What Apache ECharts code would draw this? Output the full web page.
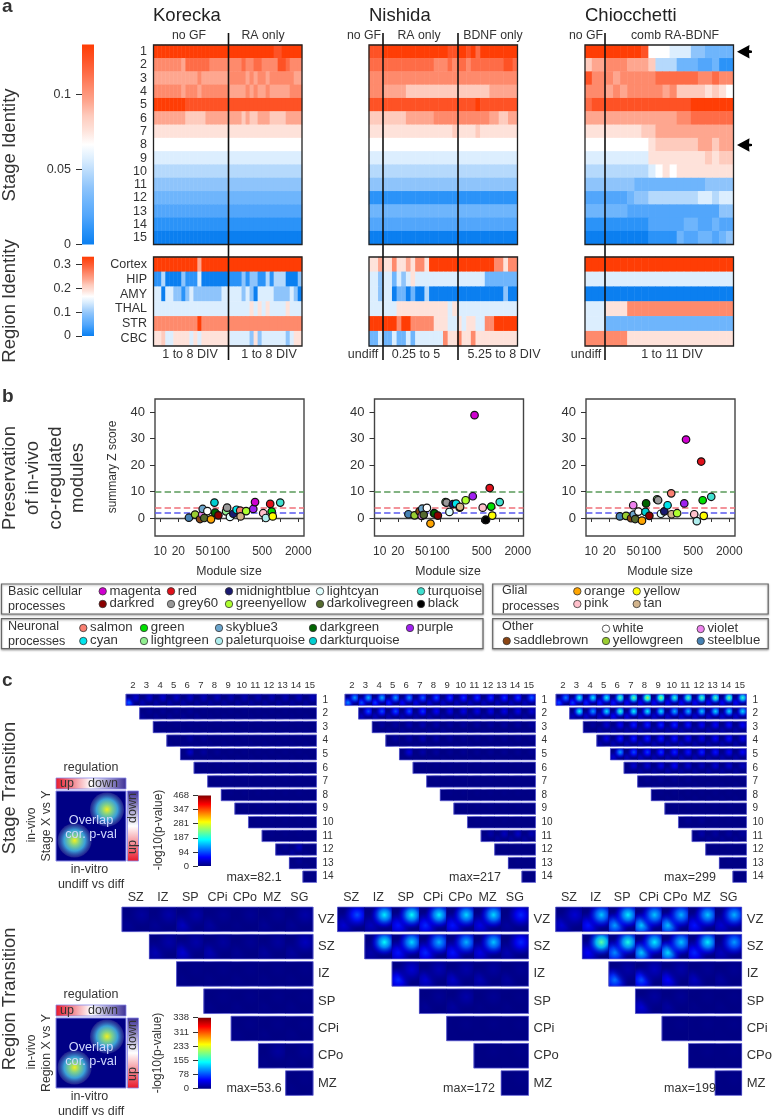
<!DOCTYPE html>
<html><head><meta charset="utf-8">
<style>html,body{margin:0;padding:0;background:#fff}#c{width:775px;height:1117px}</style>
<script src="https://cdn.jsdelivr.net/npm/echarts@6/dist/echarts.min.js"></script>
</head><body><div id="c"></div>
<script>
// ---------- DATA: panel a (colour level A = deepest blue ... H = white ... O = strongest red; letter + run length)
const stageRows = ['1','2','3','4','5','6','7','8','9','10','11','12','13','14','15'];
const regionRows = ['Cortex','HIP','AMY','THAL','STR','CBC'];
const korStage = ['O30 N2 O5','L7 K1 M6 L8 M1 L2 M2 L4 N2 M1 L3','K11 L1 K7 L4 K1 L1 K1 L2 K1 L6 K2','L7 K1 L3 K1 L7 K4 L1 K1 L1 K2 L1 K5 L3','O8 N29','K8 J5 K9 J1 K1 J2 K3 J4 K4','I37','H37','G37','F37','E37','D37','C37','B37','A37'];
const nisStage = ['N3 O14 N2 O2 N1 O1 M1 O8','M14 L3 M1 L1 M2 L1 M7 N2 M1','L32','L3 K5 J18 K6','N23 O1 N8','J8 K6 L12 K2 J2 K2','I18 J1 I4 J1 I8','H32','G32','F32','E32','B32','D32','C32','A32'];
const chiStage = ['O8 N1 H3 G3 E2 D4','J1 K2 L3 K3 J1 F3 D3 C2 D1 B2','N1 L3 K1 L5 M6 L2 M1 L2','L3 K1 L1 K1 L5 K1 L1 J4 I1 J1 I1 H1','M1 N14 O6','K13 L2 M6','I8 J2 K11','H9 I1 J6 K2 J1 K2','G9 I8 J1 I1 J2','F9 G1 H1 I1 H1 I8','E7 D10 E4','C6 D1 E2 F7 G2 F1 G2','D6 C13 E2','B9 C5 D2 C2 D1 C2','A9 B4 D1 C2 D2 C1 D1 E1'];
const korRegion = ['O11 K1 O25','B2 F1 A4 E1 B3 G1 A7 B3 E1 B1 E2 B2 F1 B1 F3 A3 E1','G2 A1 G2 E2 B1 E1 G1 E7 G5 E1 G1 E1 A1 G4 E4 G1 E1 A1','G24 I1 G1 I1 G1 I1 G4 I1 G3','L11 O1 L25','I2 J1 G2 I4 G1 I1 G1 I7 G5 E1 I1 E1 G6 E1 G1 I2'];
const nisRegion = ['I2 K1 I2 L1 I2 K1 I1 L2 I1 O14 L2 I1 L2','G2 E1 G2 D1 G1 E1 G1 I1 G15 D7','G2 E1 G2 A1 D2 A1 D1 A2 F1 A16 E1 A2','G6 I11 G1 I1 G13','O6 L1 O2 L5 I3 G2 I1 G1 I2 G2 L2 O5','D2 G1 D2 G1 D2 G1 D1 G6 L1 I2 L1 I2 L1 I9'];
const chiRegion = ['O21','G21','A21','G3 I3 L15','G3 D18','L6 I15'];
const stageScaleTicks = [0,0.05,0.1];
const regionScaleTicks = [0,0.1,0.2,0.3];

// ---------- DATA: panel b
const moduleNames = ['steelblue','yellowgreen','saddlebrown','violet','skyblue3','darkolivegreen','white','orange','darkturquoise','darkgreen','darkred','lightgreen','grey60','lightcyan','midnightblue','cyan','salmon','tan','greenyellow','purple','magenta','pink','paleturquoise','black','red','green','yellow','turquoise'];
const moduleSizes = [30,38,46,50,51,54,61,70,80,82,93,125,130,145,165,187,215,218,270,355,380,520,575,590,680,720,750,1000];
const korZ = [0.1,1.3,-0.4,1.3,3.4,0,2.6,-0.5,5.8,2,1,2.5,3.9,0.4,1.6,3.1,2.8,0.6,2.6,3.4,6,1.8,0,null,5.3,2.4,0.6,5.8];
const nisZ = [1.4,1,2.5,0.8,3.5,1.2,3.8,-2.1,1.8,1.7,0.9,6,5.8,2.3,5.2,5.4,3.9,4.2,6.7,8.2,38.8,3.9,-0.75,-0.75,11.3,4.3,0.9,6];
const chiZ = [0.6,0.8,-0.1,4.8,1.3,-0.4,2.4,-1,2.3,5.5,0.8,7,6.7,1.6,2.5,4.8,9.3,1.4,1.8,5.5,29.6,1.4,-1.2,null,21.3,6.7,0.8,8];
const thresholds = [10,4,2,0];
const sizeTicks = [10,20,50,100,200,500,1000,2000];
const sizeLabels = [10,20,50,100,500,2000];
const zTicks = [0,10,20,30,40];

// ---------- DATA: panel c (peak strength, percent of the colour scale; lower-left "up" blob and upper-right "down" blob per cell)
const stageCols = ['2','3','4','5','6','7','8','9','10','11','12','13','14','15'];
const stageLabels = ['1','2','3','4','5','6','7','8','9','10','11','12','13','14'];
const regionCols = ['SZ','IZ','SP','CPi','CPo','MZ','SG'];
const regionLabels = ['VZ','SZ','IZ','SP','CPi','CPo','MZ'];
const stageScale = ['0','94','187','281','347','468'];
const regionScale = ['0','78','155','233','311','338'];
const stageAUp = [[22,5,4,4,4,3,3,3,3,3,3,3,3,3],[2,2,2,2,2,1,1,1,1,1,1,1,1],[1,1,1,1,1,1,1,1,1,1,1,1],[1,1,1,1,1,1,1,1,1,1,1],[1,1,1,1,1,1,1,1,1,1],[1,1,1,1,1,1,1,1,1],[0,0,0,0,0,0,0,0],[0,0,0,0,0,0,0],[0,0,0,0,0,0],[0,0,0,0,0],[0,0,0,0],[2,3,1],[1,1],[0]];
const stageADown = [[8,8,8,7,7,6,6,5,5,5,5,5,6,6],[2,2,2,2,1,1,1,1,1,1,1,1,1],[1,1,1,1,1,1,1,1,1,1,1,1],[1,3,2,1,1,1,1,1,1,1,1],[7,3,2,1,1,1,1,1,1,1],[1,1,1,1,1,1,1,1,1],[1,1,1,1,1,1,1,1],[1,1,1,1,1,1,1],[1,1,1,1,1,1],[1,1,1,1,1],[1,1,1,1],[2,6,1],[2,1],[1]];
const stageBUp = [[26,20,18,16,12,10,8,7,6,6,6,6,6,6],[6,6,5,5,4,4,3,3,3,3,3,3,3],[2,2,2,2,2,2,1,1,1,1,1,1],[1,1,1,1,1,1,1,1,1,1,1],[1,1,1,1,1,1,1,1,1,1],[0,0,0,0,0,0,0,0,0],[0,0,0,0,0,0,0,0],[0,0,0,0,0,0,0],[0,0,0,0,0,0],[0,0,0,0,0],[2,3,3,3],[0,0,0],[0,0],[0]];
const stageBDown = [[28,30,30,28,26,22,20,18,17,17,17,17,18,22],[20,20,20,20,18,12,10,10,10,10,10,10,8],[3,3,5,5,4,3,3,3,3,3,3,3],[3,4,5,4,3,2,2,2,2,2,2],[9,4,3,2,2,2,2,2,2,2],[1,1,1,1,1,1,1,1,1],[1,1,1,1,1,1,1,1],[1,1,1,1,1,1,1],[1,1,1,1,1,1],[1,1,1,1,1],[4,6,7,5],[1,1,1],[1,1],[0]];
const stageCUp = [[20,18,15,15,14,12,12,12,12,12,12,12,12,12],[6,8,8,12,10,8,8,8,8,8,8,8,8],[2,3,4,4,4,4,4,4,4,4,4,4],[4,5,5,5,5,5,5,4,4,4,4],[8,6,6,5,5,5,5,4,4,4],[2,3,3,4,3,3,3,3,3],[1,1,1,1,1,1,1,1],[1,1,1,1,1,1,1],[0,0,0,0,0,0],[0,0,0,0,0],[2,2,2,2],[0,0,0],[0,0],[0]];
const stageCDown = [[25,38,36,38,45,48,55,52,42,45,45,45,48,42],[38,28,35,42,38,36,35,30,30,32,34,34,34],[3,8,12,15,15,16,16,14,12,12,13,12],[10,15,15,15,15,14,12,10,12,14,10],[28,20,18,18,16,14,16,14,12,12],[8,8,10,12,8,6,8,8,6],[2,2,2,2,1,1,1,1],[1,1,1,1,1,1,1],[1,1,1,1,1,1],[2,2,1,1,1],[4,3,3,3],[1,1,1],[1,1],[0]];
const regionAUp = [[2,2,6,3,1,2,2],[5,8,5,2,3,3],[1,1,1,1,1],[1,1,1,1],[1,1,1],[1,1],[1]];
const regionADown = [[3,4,4,2,2,2,4],[4,4,3,2,3,6],[1,1,1,1,1],[1,1,1,1],[1,1,1],[3,2],[1]];
const regionBUp = [[8,6,14,16,14,10,3],[4,14,16,14,10,5],[16,8,7,5,3],[2,3,1,1],[0,0,0],[0,0],[0]];
const regionBDown = [[20,36,38,36,34,34,16],[38,34,30,30,32,16],[8,5,4,3,2],[2,4,2,1],[1,1,1],[1,1],[1]];
const regionCUp = [[8,14,28,32,31,14,8],[12,26,32,34,16,6],[24,20,12,6,3],[8,3,1,1],[0,0,0],[0,0],[0]];
const regionCDown = [[8,32,36,32,30,32,30],[46,40,36,32,36,28],[4,6,4,2,2],[3,2,1,1],[1,1,1],[1,1],[1]];

// ---------- STYLE / LAYOUT
const FONT = '"Liberation Sans",Arial,sans-serif';
const TXT = '#333';
const palette = ['#0b7ff0','#2b93f8','#52a6fb','#6eb5fc','#8ec4fb','#b5d9fc','#dceefe','#ffffff','#fee2da','#fecbbd','#fea68f','#fe8a6c','#fe6c47','#fe5225','#ff3d05'];
const moduleColors = {steelblue:'#4682b4',yellowgreen:'#9acd32',saddlebrown:'#8b4513',violet:'#ee82ee',skyblue3:'#6ca6cd',darkolivegreen:'#556b2f',white:'#ffffff',orange:'#ffa500',darkturquoise:'#00ced1',darkgreen:'#006400',darkred:'#8b0000',lightgreen:'#90ee90',grey60:'#999999',lightcyan:'#e0ffff',midnightblue:'#191970',cyan:'#00e5ee',salmon:'#fa8072',tan:'#d2b48c',greenyellow:'#adff2f',purple:'#a020f0',magenta:'#d000d0',pink:'#ffc0cb',paleturquoise:'#afeeee',black:'#000000',red:'#e0101a',green:'#00e000',yellow:'#ffff00',turquoise:'#40e0d0'};
const lineStyles = {10:['#5a9a5a','dashed'],4:['#f0707a','dashed'],2:['#5a5af0','dashed'],0:['#444','solid']};

function expand(s){const out=[];s.split(' ').forEach(t=>{const lv=t.charCodeAt(0)-65,n=+t.slice(1);for(let i=0;i<n;i++)out.push(lv);});return out;}
function clamp(v){return Math.max(0,Math.min(1,v));}
function jet(t,a){const r=clamp(1.5-Math.abs(4*t-3)),g=clamp(1.5-Math.abs(4*t-2)),b=clamp(1.5-Math.abs(4*t-1));
  return 'rgba('+Math.round(r*255)+','+Math.round(g*255)+','+Math.round(b*255)+','+(a===undefined?1:a)+')';}
function vStops(list){return list.map((c,i)=>({offset:i/(list.length-1),color:c}));}
const vGradient = list => ({type:'linear',x:0,y:0,x2:0,y2:1,colorStops:vStops(list)});

const grids=[],xAxes=[],yAxes=[],series=[],graphics=[];
function addGrid(g,x,y){grids.push(g);xAxes.push(Object.assign({gridIndex:grids.length-1},x));yAxes.push(Object.assign({gridIndex:grids.length-1},y));return grids.length-1;}
function txt(x,y,text,o){o=o||{};graphics.push({type:'text',x:x,y:y,z:120,silent:true,
  style:{text:text,fill:o.color||TXT,font:(o.bold?'bold ':'')+(o.size||13)+'px '+FONT,textAlign:o.align||'center',textVerticalAlign:'middle'}});}
function vtxt(x,y,t,s,c){graphics.push({type:'text',x:x,y:y,rotation:Math.PI/2,z:120,silent:true,style:{text:t,fill:c||TXT,font:s+'px '+FONT,textAlign:'center',textVerticalAlign:'middle'}});}
function frame(x,y,w,h,c,lw){graphics.push({type:'rect',z:110,silent:true,shape:{x:x,y:y,width:w,height:h},style:{fill:'none',stroke:c||'#222',lineWidth:lw||1.3}});}
function vline(x,y1,y2){graphics.push({type:'line',z:115,silent:true,shape:{x1:x,y1:y1,x2:x,y2:y2},style:{stroke:'#111',lineWidth:1.6}});}

// ---------- heat panels
const heatSeries=[];
function heat(x,y,w,h,rows,labels,showLabels){
  const m=rows.map(expand),cols=m[0].length,data=[];
  m.forEach((r,i)=>r.forEach((v,j)=>data.push([j,i,v])));
  const gi=addGrid({left:x,top:y,width:w,height:h},
    {type:'category',show:false,data:Array.from({length:cols},(_,i)=>i)},
    {type:'category',inverse:true,data:labels,show:showLabels,axisLine:{show:false},axisTick:{show:false},axisLabel:{fontFamily:FONT,fontSize:12.5,color:TXT,margin:6.5,interval:0}});
  heatSeries.push(series.length);
  series.push({type:'heatmap',xAxisIndex:gi,yAxisIndex:gi,data:data,silent:true,progressive:0,itemStyle:{borderWidth:0}});
  frame(x,y,w,h);
}
heat(153.5,45,148.5,199.5,korStage,stageRows,true);
heat(369,45,148.5,199.5,nisStage,stageRows,false);
heat(585,45,148.5,199.5,chiStage,stageRows,false);
heat(153.5,257,148.5,89,korRegion,regionRows,true);
heat(369,257,148.5,89,nisRegion,regionRows,false);
heat(585,257,148.5,89,chiRegion,regionRows,false);
[[228.5,33,360],[383,33,360],[458,33,360],[605,33,360]].forEach(l=>vline(l[0],l[1],l[2]));

// scale bars of panel a
function scaleBar(y,h,maxV,ticks,fmt){
  const gi=addGrid({left:82,top:y,width:12,height:h},
    {type:'category',show:false,data:['scale']},
    {type:'value',min:0,max:maxV,splitLine:{show:false},axisLine:{show:false},
     axisTick:{show:true,customValues:ticks,length:6,lineStyle:{color:'#333'}},
     axisLabel:{customValues:ticks,formatter:fmt,fontFamily:FONT,fontSize:12.5,color:TXT,margin:11}});
  series.push({type:'bar',xAxisIndex:gi,yAxisIndex:gi,data:[maxV],barWidth:'100%',silent:true,itemStyle:{color:vGradient(palette.slice().reverse())}});
}
scaleBar(44.6,200,0.1333,stageScaleTicks,v=>String(+v.toFixed(2)));
scaleBar(256.7,79.3,0.332,regionScaleTicks,v=>String(+v.toFixed(1)));

// ---------- scatter panels
function scatter(x,values){
  const data=moduleNames.map((n,i)=>({value:[moduleSizes[i],values[i]],itemStyle:{color:moduleColors[n]}})).filter(d=>d.value[1]!==null);
  const gi=addGrid({left:x,top:399,width:149,height:137,show:true,borderColor:'#444',borderWidth:1.4},
    {type:'log',logBase:10,min:8.16,max:2490,splitLine:{show:false},axisLine:{show:false},minorTick:{show:false},
     axisTick:{show:true,customValues:sizeTicks,length:4,lineStyle:{color:'#333'}},
     axisLabel:{customValues:sizeLabels,formatter:v=>String(Math.round(v)),fontFamily:FONT,fontSize:12,color:TXT,margin:10,hideOverlap:false}},
    {type:'value',min:-6.8,max:44.9,splitLine:{show:false},axisLine:{show:false},
     axisTick:{show:true,customValues:zTicks,length:5,lineStyle:{color:'#333'}},
     axisLabel:{customValues:zTicks,fontFamily:FONT,fontSize:13,color:TXT,margin:10}});
  series.push({type:'scatter',xAxisIndex:gi,yAxisIndex:gi,data:data,symbolSize:7.5,silent:true,z:5,
    itemStyle:{borderColor:'#111',borderWidth:1.2,opacity:1},
    markLine:{silent:true,symbol:'none',label:{show:false},animation:false,z:3,
      data:thresholds.map(t=>({yAxis:t,lineStyle:{color:lineStyles[t][0],type:lineStyles[t][1],width:t===0?1.4:1.6}}))}});
}
scatter(155,korZ);scatter(374.5,nisZ);scatter(586,chiZ);

// ---------- transition panels
function overlapRenderer(colCount,gap){
  return function(params,api){
    const col=api.value(0),row=api.value(1);
    const c=api.coord([col,row]),s=api.size([1,1]);
    const w=s[0],h=s[1]-gap,r={x:c[0]-w/2,y:c[1]-h/2,width:w,height:h};
    const blob=(t,px,py)=>({type:'rect',shape:r,style:{fill:{type:'radial',x:px,y:py,r:0.62,global:false,colorStops:[
       {offset:0,color:jet(t)},{offset:0.35,color:jet(t*0.7,0.9)},{offset:0.7,color:jet(t*0.35,0.5)},{offset:1,color:jet(0,0)}]}}});
    const children=[{type:'rect',shape:{x:r.x-0.3,y:r.y,width:w+0.6,height:h},style:{fill:jet(0.005)}}];
    const up=api.value(2)/100,down=api.value(3)/100;
    if(up>0)children.push(blob(up,0.22,0.75));
    if(down>0)children.push(blob(down,0.72,0.32));
    const edge='#6c6cdc';
    const ln=(x1,y1,x2,y2)=>({type:'line',shape:{x1,y1,x2,y2},style:{stroke:edge,lineWidth:0.7}});
    children.push(ln(r.x,r.y,r.x+w,r.y),ln(r.x,r.y+h,r.x+w,r.y+h));
    if(col===row)children.push(ln(r.x,r.y,r.x,r.y+h));
    if(col===colCount-1)children.push(ln(r.x+w,r.y,r.x+w,r.y+h));
    return {type:'group',children:children};
  };
}
function overlap(x,y,w,h,cols,rows,up,down,xSize,ySize,xMargin,ySpace,gap){
  const n=rows.length,data=[];
  for(let i=0;i<n;i++)for(let j=0;j<up[i].length;j++)data.push([i+j,i,up[i][j],down[i][j]]);
  const gi=addGrid({left:x,top:y,width:w,height:h},
    {type:'category',position:'top',data:cols,axisLine:{show:false},axisTick:{show:false},axisLabel:{interval:0,fontFamily:FONT,fontSize:xSize,color:TXT,margin:xMargin}},
    {type:'category',position:'right',inverse:true,data:rows,axisLine:{show:false},axisTick:{show:false},axisLabel:{interval:0,fontFamily:FONT,fontSize:ySize,color:TXT,margin:ySpace}});
  series.push({type:'custom',xAxisIndex:gi,yAxisIndex:gi,data:data,renderItem:overlapRenderer(cols.length,gap),silent:true,clip:false,encode:{x:0,y:1}});
}
overlap(126,693,190.5,190.5,stageCols,stageLabels,stageAUp,stageADown,9.5,10,2.5,6,2.1);
overlap(345,693,190.5,190.5,stageCols,stageLabels,stageBUp,stageBDown,9.5,10,2.5,6,2.1);
overlap(556,693,190.5,190.5,stageCols,stageLabels,stageCUp,stageCDown,9.5,10,2.5,6,2.1);
overlap(122,905.7,191,191,regionCols,regionLabels,regionAUp,regionADown,12.5,13,1.5,5,2.6);
overlap(337.5,905.7,191,191,regionCols,regionLabels,regionBUp,regionBDown,12.5,13,1.5,5,2.6);
overlap(555.7,905.7,191,191,regionCols,regionLabels,regionCUp,regionCDown,12.5,13,1.5,5,2.6);

// jet scale bars of panel c
function jetBar(y,h,labels){
  const stops=[];for(let i=0;i<=16;i++)stops.push(jet(1-i/16));
  const ticks=labels.map((_,i)=>i);
  const gi=addGrid({left:198,top:y,width:13,height:h},
    {type:'category',show:false,data:['scale']},
    {type:'value',min:0,max:labels.length-1,splitLine:{show:false},axisLine:{show:false},
     axisTick:{show:true,customValues:ticks,length:5,lineStyle:{color:'#333'}},
     axisLabel:{customValues:ticks,formatter:v=>labels[Math.round(v)],fontFamily:FONT,fontSize:9.5,color:TXT,margin:9}});
  series.push({type:'bar',xAxisIndex:gi,yAxisIndex:gi,data:[labels.length-1],barWidth:'100%',silent:true,itemStyle:{color:vGradient(stops)}});
}
jetBar(795.5,70.5,stageScale);
jetBar(1017.7,71,regionScale);

// ---------- annotation text
txt(2,7,'a',{bold:true,size:19,align:'left'});txt(2,397,'b',{bold:true,size:19,align:'left'});txt(2,681,'c',{bold:true,size:19,align:'left'});
txt(153,15.5,'Korecka',{size:18.5,align:'left',color:'#222'});txt(369,15.5,'Nishida',{size:18.5,align:'left',color:'#222'});txt(585,15.5,'Chiocchetti',{size:18.5,align:'left',color:'#222'});
[[189,'no GF'],[263,'RA only'],[364,'no GF'],[419,'RA only'],[493,'BDNF only'],[586,'no GF'],[675,'comb RA-BDNF']].forEach(a=>txt(a[0],36,a[1],{size:12.3}));
[[190,'1 to 8 DIV'],[269,'1 to 8 DIV'],[363,'undiff'],[416,'0.25 to 5'],[504,'5.25 to 8 DIV'],[586,'undiff'],[672,'1 to 11 DIV']].forEach(a=>txt(a[0],354.5,a[1],{size:12.5}));
vtxt(10,145,'Stage Identity',18.5);vtxt(10,301,'Region Identity',18.5);
vtxt(10,478,'Preservation',18.5);vtxt(33,478,'of in-vivo',18.5);vtxt(56,478,'co-regulated',18.5);vtxt(78,478,'modules',18.5);
vtxt(113,467,'summary Z score',12);
[229,448,660].forEach(x=>txt(x,571.7,'Module size',{size:12.3}));
vtxt(10,788,'Stage Transition',18.3);vtxt(10,999,'Region Transition',18.3);
[[254,878,'max=82.1'],[475,878,'max=217'],[690,878,'max=299'],[254,1089,'max=53.6'],[469,1089,'max=172'],[690,1089,'max=199']].forEach(a=>txt(a[0],a[1],a[2],{size:12.5}));

// arrows
[51.7,145].forEach(y=>graphics.push({type:'polygon',z:120,silent:true,shape:{points:[[737,y],[749.5,y-6.8],[749,y-1.6],[752,y-1],[752,y+1],[749,y+1.6],[749.5,y+6.8]]},style:{fill:'#000'}}));

// legend
const legendBoxes=[[1.5,584,481.5,30],[1.5,618.7,481.5,30],[492.7,584,275.5,30],[492.7,618.7,275.5,30]];
legendBoxes.forEach(b=>graphics.push({type:'rect',z:100,silent:true,shape:{x:b[0],y:b[1],width:b[2],height:b[3]},style:{fill:'#fff',stroke:'#666',lineWidth:1.2,shadowBlur:2,shadowColor:'#aaa',shadowOffsetY:1}}));
[[8,592,'Basic cellular'],[8,607,'processes'],[8,627,'Neuronal'],[8,642,'processes'],[502,591,'Glial'],[502,607,'processes'],[502,627,'Other']].forEach(a=>txt(a[0],a[1],a[2],{size:12.6,align:'left'}));
const legendSlots={magenta:[102.7,591.3],red:[171,591.3],midnightblue:[229,591.3],lightcyan:[320,591.3],turquoise:[421,591.3],
 darkred:[102.7,604],grey60:[171,604],greenyellow:[229,604],darkolivegreen:[320,604],black:[421,604],
 salmon:[83.3,628],green:[144,628],skyblue3:[219,628],darkgreen:[313,628],purple:[410,628],
 cyan:[83.3,641],lightgreen:[144,641],paleturquoise:[219,641],darkturquoise:[313,641],
 orange:[577.3,591.3],yellow:[636.7,591.3],pink:[577.3,604],tan:[636.7,604],
 white:[606,628.7],violet:[700.7,629],saddlebrown:[506.7,641],yellowgreen:[606,641],steelblue:[700.7,641]};
moduleNames.forEach(n=>{const p=legendSlots[n];
  graphics.push({type:'circle',z:118,silent:true,shape:{cx:p[0],cy:p[1],r:3.7},style:{fill:moduleColors[n],stroke:'#333',lineWidth:0.8}});
  txt(p[0]+6.8,p[1]-0.3,n,{size:13.2,align:'left'});});

// schematics
function schematic(top,kind){
  const l=56,w=70,h=70;
  graphics.push({type:'rect',z:101,silent:true,shape:{x:l,y:top,width:w,height:h},style:{fill:jet(0.005),stroke:'#8888e8',lineWidth:1}});
  const blob=(cx,cy)=>graphics.push({type:'circle',z:102,silent:true,shape:{cx:cx,cy:cy,r:17},style:{fill:{type:'radial',x:0.5,y:0.5,r:0.5,colorStops:[{offset:0,color:'#f0f020'},{offset:0.3,color:'#7fd08a'},{offset:0.62,color:'#3aa0d8'},{offset:1,color:'rgba(60,60,150,0.55)'}]}}});
  blob(107,top+18.5);blob(74.6,top+49.5);
  txt(91,top+29,'Overlap',{size:12.7,color:'#d0d8ff'});txt(91,top+43.5,'cor. p-val',{size:12.7,color:'#d0d8ff'});
  graphics.push({type:'rect',z:101,silent:true,shape:{x:l,y:top-13,width:w,height:11},style:{stroke:'#8888e8',lineWidth:0.8,fill:{type:'linear',x:0,y:0,x2:1,y2:0,colorStops:[{offset:0,color:'#e8182a'},{offset:0.5,color:'#ffffff'},{offset:1,color:'#3c2f96'}]}}});
  graphics.push({type:'rect',z:101,silent:true,shape:{x:127.5,y:top,width:11,height:h},style:{stroke:'#8888e8',lineWidth:0.8,fill:vGradient(['#3c2f96','#ffffff','#e8182a'])}});
  txt(67,top-7.5,'up',{size:12.5});txt(103,top-7.5,'down',{size:12.5});
  vtxt(133,top+17,'down',12.5);vtxt(133,top+56,'up',12.5);
  txt(91,top-23,'regulation',{size:12.5});txt(89.5,top+79,'in-vitro',{size:12.5});txt(91,top+94,'undiff vs diff',{size:12.5});
  vtxt(32,top+34,'in-vivo',12);vtxt(47,top+35,kind+' X vs Y',12.3);
}
schematic(791,'Stage');schematic(1018,'Region');
vtxt(159,830,'-log10(p-value)',12);vtxt(158,1053,'-log10(p-value)',12);

const chart=echarts.init(document.getElementById('c'),null,{renderer:'canvas'});
chart.setOption({animation:false,backgroundColor:'#fff',textStyle:{fontFamily:FONT},
  grid:grids,xAxis:xAxes,yAxis:yAxes,series:series,graphic:{elements:graphics},
  visualMap:{show:false,type:'continuous',min:0,max:14,seriesIndex:heatSeries,dimension:2,inRange:{color:palette}}});
</script></body></html>
